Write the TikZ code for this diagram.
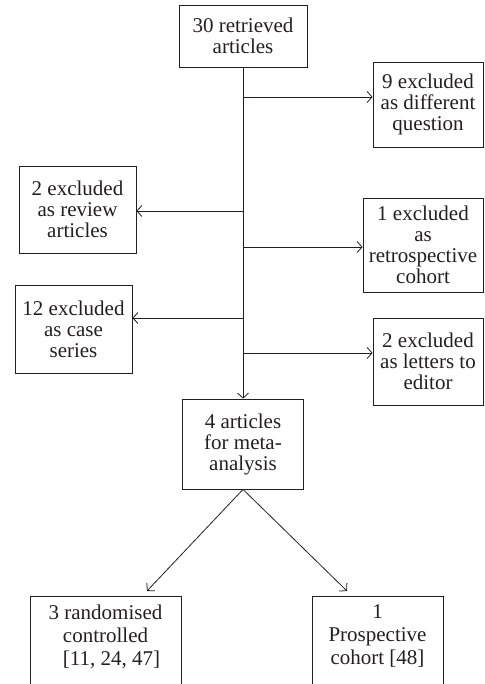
\documentclass[tikz,border=0pt]{standalone}
\usepackage{fontspec}
\setmainfont{Liberation Serif}
\usetikzlibrary{arrows.meta}
\definecolor{ink}{HTML}{231F20}
\tikzset{
  box/.style={draw=ink, line width=0.8pt, text=ink, align=center, inner sep=2pt,
    font=\fontsize{21}{21}\selectfont},
  lowbox/.style={box, font=\fontsize{21}{23}\selectfont},
  conn/.style={draw=ink, line width=0.8pt, -{Straight Barb[length=5pt,width=11pt]}},
}
\begin{document}
\begin{tikzpicture}[x=1pt,y=-1pt]
\clip (0,0) rectangle (484,684);
% boxes
\node[box, minimum width=128, minimum height=62] (top) at (243,36) {30 retrieved\\articles};
\node[box, minimum width=110, minimum height=85] (e1) at (428,104.5) {9 excluded\\as different\\question};
\node[box, minimum width=117, minimum height=87] (e2) at (77.5,209.5) {2 excluded\\as review\\articles};
\node[box, minimum width=120, minimum height=94] (e3) at (423,245) {1 excluded\\as\\retrospective\\cohort};
\node[box, minimum width=117, minimum height=88] (e4) at (73.5,329) {12 excluded\\as case\\series};
\node[box, minimum width=110, minimum height=87] (e5) at (428,361.5) {2 excluded\\as letters to\\editor};
\node[box, minimum width=121, minimum height=90] (m) at (243,444) {4 articles\\for meta-\\analysis};
\node[lowbox, minimum width=151, minimum height=108] (r1) at (105.5,650) {3 randomised\\controlled\\\hspace{12pt}[11, 24, 47]\\\strut};
\node[lowbox, minimum width=131, minimum height=108] (r2) at (377.5,650) {1\\Prospective\\cohort [48]\\\strut};
% junctions on the main line
\coordinate (j1) at (243,97);
\coordinate (j2) at (243,211);
\coordinate (j3) at (243,247);
\coordinate (j4) at (243,318);
\coordinate (j5) at (243,353);
\coordinate (t1) at (147,591);
\coordinate (t2) at (347,591);
% connectors
\draw[conn] (top.south) -- (m.north);
\draw[conn] (j1) -- (j1 -| e1.west);
\draw[conn] (j2) -- (j2 -| e2.east);
\draw[conn] (j3) -- (j3 -| e3.west);
\draw[conn] (j4) -- (j4 -| e4.east);
\draw[conn] (j5) -- (j5 -| e5.west);
\draw[conn] (m.south) -- (t1);
\draw[conn] (m.south) -- (t2);
\end{tikzpicture}
\end{document}
